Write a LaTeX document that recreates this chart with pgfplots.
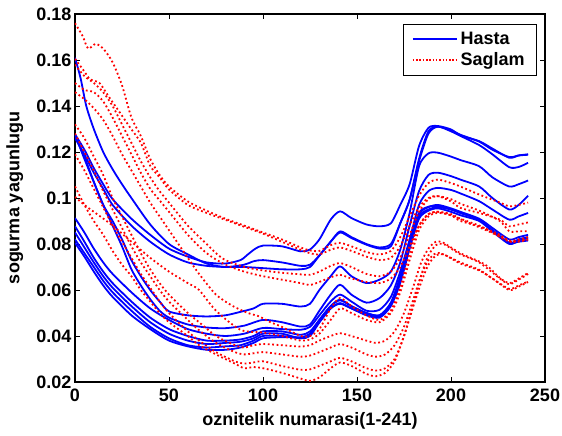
\documentclass[border=0pt]{standalone}
\usepackage{fontspec}
\setmainfont{Liberation Sans}
\usepackage{pgfplots}
\pgfplotsset{compat=1.18}
\newcommand{\fs}{\fontsize{18}{21}\selectfont\bfseries}
\pgfplotsset{
  hasta/.style={color=blue, draw=blue, line width=1.8pt, line join=round, smooth, tension=0.45, mark=none, forget plot},
  saglam/.style={color=red, draw=red, line width=1.8pt, dash pattern=on 1.8pt off 2.6pt, smooth, tension=0.45, mark=none, forget plot},
}
\begin{document}
\begin{tikzpicture}
\useasboundingbox (-75pt,-54pt) rectangle (487pt,382pt);
\begin{axis}[
  at={(0,0)}, anchor=south west,
  width=470pt, height=368pt, scale only axis,
  xmin=0, xmax=250, ymin=0.02, ymax=0.18,
  xtick={0,50,100,150,200,250},
  ytick={0.02,0.04,0.06,0.08,0.1,0.12,0.14,0.16,0.18},
  yticklabels={0.02,0.04,0.06,0.08,0.1,0.12,0.14,0.16,0.18},
  scaled y ticks=false,
  tick align=inside, tick pos=both,
  major tick length=5pt,
  axis line style={line width=1.1pt},
  every tick/.style={black, line width=0.8pt},
  font=\fs,
  /pgf/number format/assume math mode=true,
  xticklabel style={yshift=-3pt},
  xlabel={oznitelik numarasi(1-241)},
  ylabel={sogurma yagunlugu},
  xlabel style={at={(axis description cs:0.5,-0.105)}, anchor=center},
  ylabel style={at={(axis description cs:-0.128,0.5)}, anchor=center},
  legend style={at={(0.983,0.974)}, anchor=north east, line width=0.8pt,
    fill=white, font=\fs, inner xsep=9pt, inner ysep=5pt, row sep=1pt,
    nodes={inner sep=3pt, text depth=0.15em}, cells={anchor=west}},
]
% Hasta (blue)
\addplot[hasta] coordinates {(0,0.161)(3,0.152)(6,0.140)(10,0.130)(15,0.120)(20,0.1125)(25,0.106)(30,0.100)(40,0.0885)(50,0.080)(60,0.0755)(70,0.0715)(80,0.070)(90,0.071)(95,0.0725)(100,0.073)(110,0.072)(120,0.0705)(125,0.071)(130,0.075)(136,0.081)(141,0.0855)(147,0.083)(155,0.080)(162,0.0785)(168,0.080)(173,0.089)(178,0.0993)(183,0.116)(188,0.128)(193,0.131)(200,0.129)(205,0.127)(215,0.123)(222,0.119)(231,0.1134)(236,0.1135)(241,0.1153)};
\addplot[hasta] coordinates {(0,0.1277)(5,0.121)(10,0.113)(15,0.106)(20,0.0995)(30,0.091)(40,0.084)(50,0.078)(60,0.0745)(70,0.072)(80,0.0715)(88,0.073)(92,0.0755)(96,0.078)(100,0.0793)(110,0.079)(120,0.0768)(125,0.0776)(130,0.082)(136,0.0906)(141,0.0942)(147,0.0913)(155,0.0885)(162,0.0877)(168,0.089)(173,0.097)(178,0.106)(183,0.1226)(188,0.1305)(193,0.1313)(200,0.1298)(205,0.1272)(215,0.1247)(222,0.1215)(231,0.1175)(236,0.1185)(241,0.119)};
\addplot[hasta] coordinates {(0,0.126)(5,0.119)(10,0.111)(15,0.104)(20,0.097)(30,0.088)(40,0.081)(50,0.0755)(60,0.072)(70,0.0705)(80,0.070)(90,0.070)(100,0.0695)(110,0.069)(120,0.069)(125,0.070)(130,0.075)(136,0.081)(141,0.085)(147,0.0826)(155,0.0797)(162,0.078)(168,0.079)(173,0.089)(178,0.0993)(183,0.117)(188,0.129)(193,0.131)(200,0.1295)(205,0.1275)(215,0.1245)(222,0.121)(231,0.1178)(236,0.1185)(241,0.1188)};
\addplot[hasta] coordinates {(0,0.1275)(5,0.117)(10,0.107)(15,0.097)(20,0.090)(25,0.082)(30,0.073)(35,0.066)(40,0.060)(45,0.055)(50,0.0507)(60,0.049)(70,0.0485)(80,0.049)(88,0.0505)(95,0.052)(100,0.054)(110,0.054)(120,0.0528)(125,0.054)(130,0.060)(136,0.066)(141,0.0703)(147,0.066)(155,0.063)(162,0.0645)(168,0.068)(173,0.0775)(178,0.0935)(183,0.1138)(188,0.1194)(193,0.1197)(200,0.118)(205,0.1165)(215,0.1138)(222,0.109)(231,0.105)(236,0.106)(241,0.1076)};
\addplot[hasta] coordinates {(0,0.127)(5,0.118)(10,0.107)(15,0.097)(20,0.088)(25,0.079)(30,0.069)(35,0.062)(40,0.056)(45,0.051)(50,0.048)(60,0.045)(70,0.0437)(80,0.0434)(90,0.0445)(100,0.047)(110,0.046)(120,0.0441)(125,0.045)(130,0.051)(136,0.058)(141,0.0623)(147,0.058)(155,0.0545)(162,0.0565)(168,0.062)(173,0.072)(178,0.088)(183,0.103)(188,0.110)(193,0.111)(200,0.1095)(205,0.108)(215,0.105)(222,0.100)(231,0.095)(236,0.097)(241,0.101)};
\addplot[hasta] coordinates {(0,0.0913)(5,0.085)(10,0.078)(15,0.072)(20,0.067)(30,0.059)(40,0.052)(50,0.047)(60,0.043)(70,0.041)(80,0.040)(90,0.041)(100,0.0435)(110,0.043)(120,0.0427)(125,0.044)(130,0.049)(136,0.055)(141,0.058)(147,0.055)(155,0.051)(162,0.0514)(168,0.057)(173,0.068)(178,0.082)(183,0.097)(188,0.103)(193,0.1044)(200,0.1035)(205,0.102)(215,0.0986)(222,0.095)(231,0.0906)(236,0.092)(241,0.0935)};
\addplot[hasta] coordinates {(0,0.0877)(5,0.081)(10,0.074)(15,0.068)(20,0.063)(30,0.055)(40,0.048)(50,0.043)(60,0.040)(70,0.038)(80,0.038)(88,0.0385)(95,0.040)(100,0.042)(110,0.042)(120,0.0405)(125,0.042)(130,0.047)(136,0.053)(141,0.0558)(147,0.053)(155,0.050)(162,0.049)(168,0.054)(173,0.064)(178,0.079)(183,0.092)(188,0.095)(193,0.096)(200,0.095)(205,0.0935)(215,0.0906)(222,0.086)(231,0.0805)(236,0.082)(241,0.083)};
\addplot[hasta] coordinates {(0,0.085)(5,0.0785)(10,0.072)(15,0.066)(20,0.061)(30,0.053)(40,0.046)(50,0.041)(60,0.038)(70,0.0365)(80,0.037)(88,0.0375)(95,0.039)(100,0.041)(110,0.041)(120,0.039)(125,0.0405)(130,0.046)(136,0.052)(141,0.0543)(147,0.052)(155,0.049)(162,0.048)(168,0.053)(173,0.063)(178,0.078)(183,0.091)(188,0.0945)(193,0.0955)(200,0.094)(205,0.0925)(215,0.090)(222,0.0855)(231,0.080)(236,0.0815)(241,0.0825)};
\addplot[hasta] coordinates {(0,0.082)(5,0.076)(10,0.070)(15,0.064)(20,0.059)(30,0.051)(40,0.044)(50,0.039)(60,0.036)(70,0.035)(80,0.0355)(88,0.036)(95,0.038)(100,0.040)(110,0.040)(120,0.039)(125,0.040)(130,0.046)(136,0.052)(141,0.054)(147,0.052)(155,0.0495)(162,0.0485)(168,0.054)(173,0.065)(178,0.080)(183,0.093)(188,0.096)(193,0.097)(200,0.0955)(205,0.094)(215,0.091)(222,0.087)(231,0.082)(236,0.083)(241,0.084)};
\addplot[hasta] coordinates {(0,0.0805)(5,0.0745)(10,0.068)(15,0.062)(20,0.057)(30,0.049)(40,0.043)(50,0.038)(60,0.0355)(70,0.034)(80,0.034)(88,0.035)(95,0.037)(100,0.039)(110,0.0395)(120,0.0395)(125,0.041)(130,0.047)(136,0.053)(141,0.0555)(147,0.053)(155,0.050)(162,0.049)(168,0.0545)(173,0.066)(178,0.081)(183,0.0935)(188,0.0962)(193,0.0965)(200,0.095)(205,0.0935)(215,0.0905)(222,0.086)(231,0.0805)(236,0.081)(241,0.0815)};
% Saglam (red)
\addplot[saglam] coordinates {(0,0.176)(4,0.1705)(7,0.165)(11,0.167)(15,0.165)(20,0.159)(25,0.149)(30,0.135)(35,0.127)(40,0.117)(45,0.110)(50,0.105)(60,0.0985)(70,0.0945)(80,0.091)(90,0.088)(100,0.085)(110,0.082)(120,0.0785)(125,0.0772)(130,0.077)(136,0.0795)(141,0.0805)(147,0.079)(155,0.0765)(162,0.0755)(168,0.077)(173,0.083)(178,0.092)(183,0.101)(188,0.1065)(193,0.108)(200,0.1065)(205,0.105)(215,0.1015)(226,0.098)(231,0.0964)(236,0.097)(241,0.098)};
\addplot[saglam] coordinates {(0,0.1605)(5,0.155)(8,0.1516)(13,0.150)(18,0.144)(24,0.137)(29,0.131)(35,0.124)(40,0.114)(45,0.109)(50,0.1037)(60,0.097)(70,0.0935)(80,0.0905)(90,0.0875)(100,0.0845)(110,0.081)(120,0.0775)(125,0.076)(130,0.0755)(136,0.0775)(141,0.0785)(147,0.077)(155,0.0745)(162,0.073)(168,0.074)(173,0.079)(178,0.088)(183,0.096)(188,0.100)(193,0.1008)(200,0.0985)(205,0.0957)(215,0.0935)(226,0.0906)(231,0.0877)(236,0.0885)(241,0.0894)};
\addplot[saglam] coordinates {(0,0.158)(5,0.153)(10,0.150)(15,0.146)(20,0.140)(25,0.132)(30,0.124)(35,0.116)(40,0.109)(45,0.103)(50,0.098)(60,0.088)(70,0.080)(75,0.076)(80,0.073)(90,0.070)(100,0.0685)(110,0.0675)(120,0.0668)(125,0.0666)(130,0.068)(136,0.0705)(141,0.0717)(147,0.070)(155,0.067)(162,0.066)(168,0.068)(173,0.074)(178,0.084)(183,0.094)(188,0.0995)(193,0.1008)(200,0.0995)(205,0.0975)(215,0.0945)(226,0.090)(231,0.0855)(236,0.0855)(241,0.0855)};
\addplot[saglam] coordinates {(0,0.150)(5,0.147)(10,0.146)(15,0.142)(20,0.135)(25,0.127)(30,0.119)(35,0.111)(40,0.104)(45,0.099)(50,0.094)(60,0.084)(70,0.076)(80,0.071)(90,0.068)(100,0.066)(110,0.0645)(120,0.063)(125,0.0622)(130,0.0635)(136,0.0655)(141,0.0666)(147,0.065)(155,0.0635)(162,0.063)(168,0.065)(173,0.070)(178,0.079)(183,0.088)(188,0.093)(193,0.094)(200,0.0925)(205,0.090)(215,0.0877)(226,0.084)(231,0.0812)(236,0.081)(241,0.082)};
\addplot[saglam] coordinates {(0,0.146)(5,0.143)(10,0.139)(15,0.134)(20,0.127)(25,0.119)(30,0.112)(35,0.105)(40,0.098)(45,0.092)(50,0.086)(55,0.080)(60,0.074)(66,0.067)(75,0.058)(84,0.053)(92,0.050)(98,0.0485)(104,0.046)(110,0.044)(120,0.040)(125,0.040)(130,0.043)(136,0.052)(141,0.0565)(147,0.053)(155,0.049)(162,0.047)(168,0.051)(173,0.061)(178,0.076)(183,0.088)(188,0.093)(193,0.094)(200,0.093)(205,0.091)(215,0.088)(222,0.085)(231,0.081)(236,0.0815)(241,0.082)};
\addplot[saglam] coordinates {(0,0.132)(5,0.126)(10,0.118)(15,0.110)(20,0.100)(25,0.092)(30,0.084)(35,0.076)(40,0.069)(45,0.063)(50,0.058)(60,0.050)(66,0.046)(75,0.040)(85,0.036)(90,0.035)(95,0.036)(100,0.0365)(110,0.036)(120,0.0354)(125,0.036)(130,0.038)(136,0.040)(141,0.0412)(147,0.040)(155,0.038)(160,0.037)(165,0.038)(170,0.042)(175,0.050)(180,0.0616)(184,0.0717)(188,0.078)(192,0.081)(196,0.0805)(205,0.076)(215,0.0724)(220,0.070)(226,0.0652)(231,0.063)(236,0.065)(241,0.0674)};
\addplot[saglam] coordinates {(0,0.128)(5,0.120)(10,0.112)(15,0.103)(20,0.095)(25,0.087)(30,0.079)(35,0.072)(40,0.066)(45,0.060)(50,0.055)(60,0.047)(66,0.0425)(75,0.037)(85,0.033)(90,0.032)(95,0.0325)(100,0.033)(110,0.032)(120,0.031)(125,0.0315)(130,0.033)(136,0.035)(141,0.0365)(147,0.035)(155,0.032)(160,0.031)(165,0.032)(170,0.036)(175,0.044)(180,0.056)(184,0.066)(188,0.073)(192,0.076)(196,0.0755)(205,0.072)(215,0.0688)(222,0.065)(231,0.0605)(236,0.062)(241,0.0637)};
\addplot[saglam] coordinates {(0,0.119)(5,0.112)(10,0.104)(15,0.096)(20,0.088)(25,0.081)(30,0.074)(35,0.067)(40,0.061)(45,0.055)(50,0.050)(60,0.042)(66,0.038)(75,0.033)(85,0.029)(90,0.028)(95,0.0285)(100,0.029)(110,0.027)(120,0.0253)(125,0.0255)(130,0.027)(136,0.029)(141,0.0305)(147,0.029)(155,0.026)(160,0.025)(165,0.026)(170,0.030)(175,0.040)(180,0.054)(184,0.066)(188,0.075)(192,0.0795)(196,0.080)(205,0.0755)(215,0.072)(226,0.065)(231,0.0625)(236,0.0645)(241,0.067)};
\addplot[saglam] coordinates {(0,0.105)(5,0.097)(10,0.090)(15,0.084)(20,0.077)(25,0.071)(30,0.066)(35,0.060)(40,0.055)(45,0.050)(50,0.046)(60,0.040)(66,0.036)(75,0.032)(85,0.028)(90,0.026)(95,0.0265)(100,0.026)(110,0.024)(120,0.0215)(125,0.0205)(130,0.022)(136,0.026)(141,0.0285)(147,0.027)(155,0.0235)(160,0.0225)(165,0.024)(170,0.029)(175,0.040)(180,0.053)(184,0.063)(188,0.071)(192,0.075)(196,0.0755)(205,0.0715)(215,0.0685)(222,0.065)(231,0.060)(236,0.0615)(241,0.0635)};
\addplot[saglam] coordinates {(0,0.1005)(5,0.097)(10,0.094)(20,0.088)(30,0.081)(40,0.074)(50,0.068)(60,0.063)(66,0.060)(75,0.051)(88,0.0427)(100,0.0415)(110,0.040)(120,0.038)(125,0.0385)(130,0.041)(136,0.047)(141,0.052)(147,0.050)(155,0.047)(162,0.046)(168,0.050)(173,0.059)(178,0.073)(183,0.086)(188,0.092)(193,0.0935)(200,0.0925)(210,0.089)(220,0.0855)(231,0.0815)(236,0.082)(241,0.083)};
\addlegendimage{legend image code/.code={\draw[blue, line width=1.2pt] (0pt,0pt) -- (44pt,0pt);}}
\addlegendentry{Hasta}
\addlegendimage{legend image code/.code={\draw[red, line width=1.5pt, dash pattern=on 1.5pt off 1.8pt] (0pt,0pt) -- (44pt,0pt);}}
\addlegendentry{Saglam}
\end{axis}
\end{tikzpicture}
\end{document}
